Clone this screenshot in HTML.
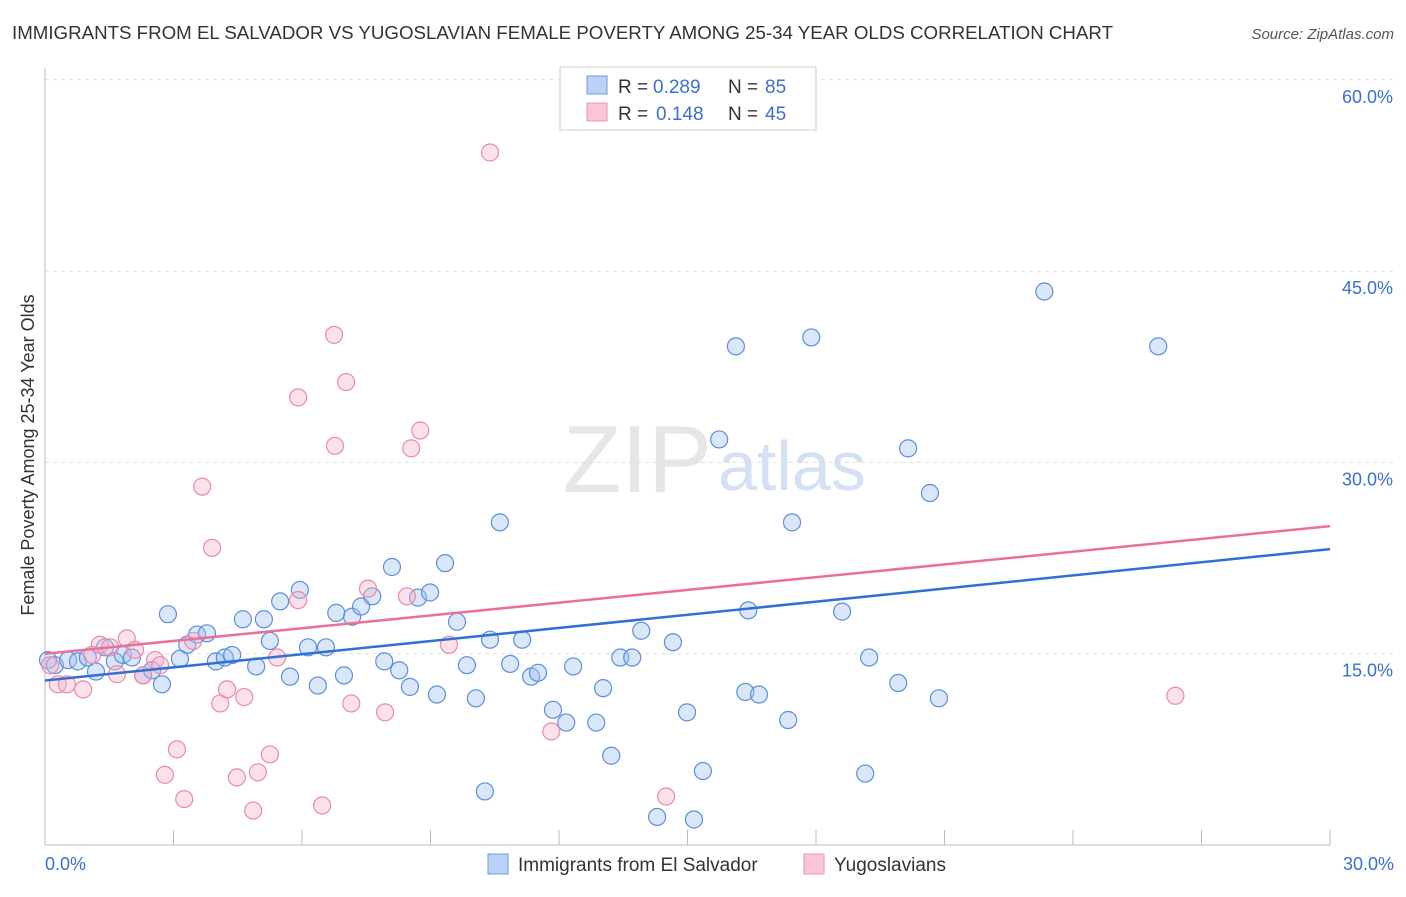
<!DOCTYPE html>
<html><head><meta charset="utf-8"><style>
body{margin:0;background:#fff;font-family:"Liberation Sans",sans-serif;}
svg text{font-family:"Liberation Sans",sans-serif;}
</style></head><body>
<svg id="chart" width="1406" height="892">
<text x="12" y="39" font-size="18" fill="#333" textLength="1101" lengthAdjust="spacingAndGlyphs">IMMIGRANTS FROM EL SALVADOR VS YUGOSLAVIAN FEMALE POVERTY AMONG 25-34 YEAR OLDS CORRELATION CHART</text>
<text x="1394" y="39" font-size="15" fill="#555" font-style="italic" text-anchor="end">Source: ZipAtlas.com</text>
<text x="712" y="492" font-size="96" fill="#e6e6e6" text-anchor="end" font-family="Liberation Serif">ZIP</text>
<text x="718" y="490" font-size="70" fill="#d4e1f3">atlas</text>
<text transform="translate(34,455) rotate(-90)" font-size="18" fill="#333" text-anchor="middle">Female Poverty Among 25-34 Year Olds</text>
<g id="grid"></g><g id="pts"></g><g id="lines"></g>
<g>
<rect x="560" y="67" width="256" height="63" fill="#fff" stroke="#ccc"/>
<rect x="587" y="76" width="20" height="18" fill="#b9d2f5" stroke="#6e9ae0"/>
<rect x="587" y="103" width="20" height="18" fill="#f9c6d6" stroke="#ec93b1"/>
<text y="93" font-size="19" fill="#333"><tspan x="618">R =</tspan><tspan x="653" fill="#3b6fd4">0.289</tspan><tspan x="728">N =</tspan><tspan x="765" fill="#3b6fd4">85</tspan></text>
<text y="120" font-size="19" fill="#333"><tspan x="618">R =</tspan><tspan x="656" fill="#3b6fd4">0.148</tspan><tspan x="728">N =</tspan><tspan x="765" fill="#3b6fd4">45</tspan></text>
</g>
<g>
<rect x="488" y="854" width="20" height="20" fill="#b9d2f5" stroke="#6e9ae0"/>
<text x="518" y="871" font-size="19" fill="#333">Immigrants from El Salvador</text>
<rect x="804" y="854" width="20" height="20" fill="#f9c6d6" stroke="#ec93b1"/>
<text x="834" y="871" font-size="19" fill="#333">Yugoslavians</text>
</g>
</svg>
<script>
const blueX=[0.07,0.23,0.54,0.77,1.0,1.19,1.4,1.63,1.82,2.03,2.29,2.5,2.73,2.87,3.15,3.32,3.55,3.78,3.99,4.2,4.37,4.62,4.93,5.11,5.25,5.49,5.72,5.95,6.14,6.37,6.56,6.8,6.98,7.17,7.38,7.64,7.92,8.1,8.27,8.52,8.71,8.99,9.15,9.34,9.62,9.85,10.06,10.27,10.39,10.62,10.86,11.14,11.35,11.51,11.86,12.17,12.33,12.87,13.03,13.22,13.43,13.71,13.92,14.29,14.66,14.99,15.15,15.36,15.74,16.13,16.35,16.42,16.67,17.35,17.44,17.89,18.61,19.15,19.24,19.92,20.15,20.66,20.87,23.33,25.99];
const blueY=[14.5,14.1,14.5,14.4,14.7,13.6,15.5,14.4,14.9,14.7,13.3,13.7,12.6,18.1,14.6,15.7,16.5,16.6,14.4,14.7,14.9,17.7,14.0,17.7,16.0,19.1,13.2,20.0,15.5,12.5,15.5,18.2,13.3,17.9,18.7,19.5,14.4,21.8,13.7,12.4,19.4,19.8,11.8,22.1,17.5,14.1,11.5,4.2,16.1,25.3,14.2,16.1,13.2,13.5,10.6,9.6,14.0,9.6,12.3,7.0,14.7,14.7,16.8,2.2,15.9,10.4,2.0,5.8,31.8,39.1,12.0,18.4,11.8,9.8,25.3,39.8,18.3,5.6,14.7,12.7,31.1,27.6,11.5,43.4,39.1];
const pinkX=[0.12,0.3,0.51,0.89,1.1,1.28,1.52,1.68,1.91,2.1,2.29,2.57,2.69,2.8,3.08,3.25,3.46,3.67,3.9,4.09,4.25,4.48,4.65,4.86,4.97,5.25,5.42,5.91,5.91,6.47,6.77,6.75,7.03,7.15,7.54,7.94,8.45,8.55,8.76,9.43,10.39,11.82,14.5,26.39];
const pinkY=[14.1,12.6,12.6,12.2,14.9,15.7,15.5,13.4,16.2,15.3,13.3,14.5,14.1,5.5,7.5,3.6,16.0,28.1,23.3,11.1,12.2,5.3,11.6,2.7,5.7,7.1,14.7,35.1,19.2,3.1,31.3,40.0,36.3,11.1,20.1,10.4,19.5,31.1,32.5,15.7,54.3,8.9,3.8,11.7];
const trendBlue=[12.9,23.2];
const trendPink=[15.0,25.0];
const xTicks=[0,30];
const yTicks=[15,30,45,60];
const NS='http://www.w3.org/2000/svg';
const X=v=>45+v/30*1285, Y=v=>845-v/15*191.3;
function mk(t,a,p){const e=document.createElementNS(NS,t);for(const k in a)e.setAttribute(k,a[k]);p.appendChild(e);return e;}
const grid=document.getElementById('grid');
yTicks.forEach(v=>{
 const l=mk('line',{x1:45,x2:1394,y1:Y(v),y2:Y(v),stroke:'#ddd','stroke-dasharray':'4,4'},grid);
 
 
 const t=mk('text',{x:1393,y:Y(v)+23,'font-size':18,fill:'#3b6fd4','text-anchor':'end'},grid);
 t.textContent=v.toFixed(1)+'%';
 
 
});
mk('line',{x1:45,x2:45,y1:68,y2:845,stroke:'#bbb'},grid);
mk('line',{x1:45,x2:1330,y1:845,y2:845,stroke:'#bbb'},grid);
for(let i=0;i<=10;i++){const l=mk('line',{x1:X(i*3),x2:X(i*3),y1:830,y2:845,stroke:'#bbb'},grid);
 
 }
xTicks.forEach((v,i)=>{const t=mk('text',{x:i?1394:45,y:870,'font-size':18,fill:'#3b6fd4','text-anchor':i?'end':'start'},grid);
 t.textContent=v.toFixed(1)+'%';
 
 });
const pts=document.getElementById('pts');
blueX.forEach((x,i)=>{const c=mk('circle',{cx:X(x),cy:Y(blueY[i]),r:8.5,fill:'rgba(160,195,240,0.4)',stroke:'#5b8fdc','stroke-width':1.2},pts);
 
 });
pinkX.forEach((x,i)=>{const c=mk('circle',{cx:X(x),cy:Y(pinkY[i]),r:8.5,fill:'rgba(245,180,204,0.4)',stroke:'#eb8aab','stroke-width':1.2},pts);
 
 });
const lines=document.getElementById('lines');
const lb=mk('line',{x1:X(0),x2:X(30),y1:Y(trendBlue[0]),y2:Y(trendBlue[1]),stroke:'#2f6fd6','stroke-width':2.5},lines);


const lp=mk('line',{x1:X(0),x2:X(30),y1:Y(trendPink[0]),y2:Y(trendPink[1]),stroke:'#e8709a','stroke-width':2.5},lines);


</script>
</body></html>
